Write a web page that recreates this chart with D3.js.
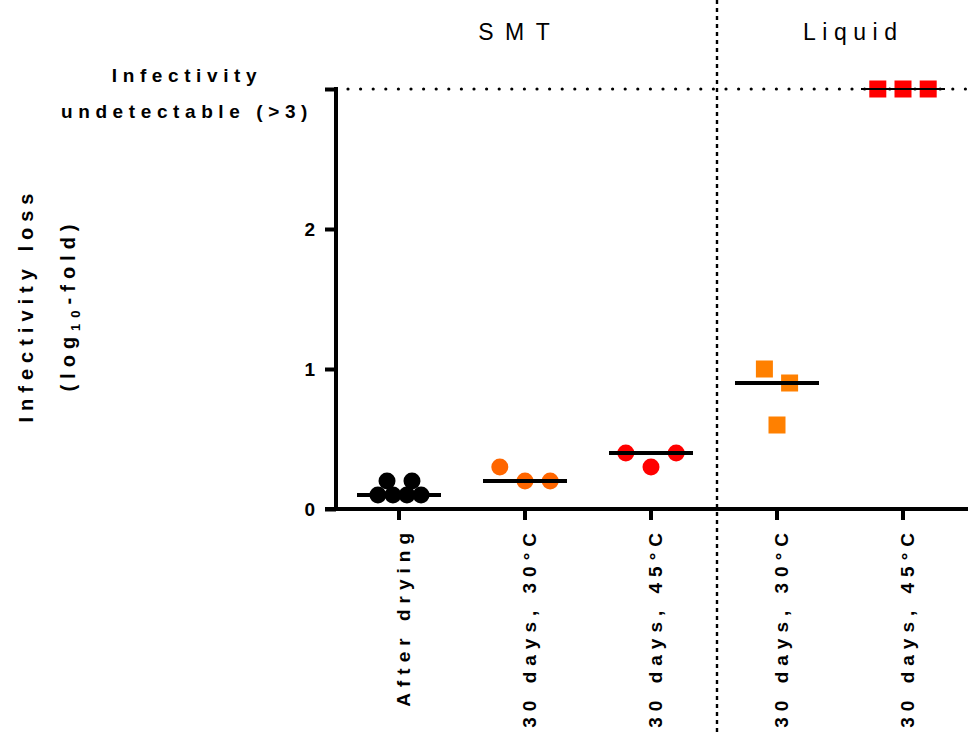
<!DOCTYPE html>
<html>
<head>
<meta charset="utf-8">
<script src="https://cdn.jsdelivr.net/npm/d3@7"></script>
<style>
  body { margin: 0; background: #fff; }
  svg { font-family: "Liberation Sans", Arial, sans-serif; }
  .lbl { font-weight: bold; }
</style>
</head>
<body>
<svg width="971" height="734"></svg>
<script>
// data
const categories = ["After drying", "30 days, 30°C", "30 days, 45°C", "30 days, 30°C", "30 days, 45°C"];
const groupNames = ["SMT", "Liquid"];
const shapes = ["circle", "circle", "circle", "square", "square"];
const colors = ["#000000", "#FF6600", "#FF0000", "#FF8000", "#FF0000"];
const values = [
  [0.1, 0.1, 0.1, 0.1, 0.2, 0.2],
  [0.3, 0.2, 0.2],
  [0.4, 0.3, 0.4],
  [1.0, 0.9, 0.6],
  [3, 3, 3]
];
// horizontal scatter offsets, fraction of a category step
const jitter = [
  [-0.167, -0.048, 0.063, 0.175, -0.095, 0.103],
  [-0.2, 0, 0.2],
  [-0.2, 0, 0.2],
  [-0.1, 0.1, 0],
  [-0.2, 0, 0.2]
];
const medians = [0.1, 0.2, 0.4, 0.9, 3];
const yTicks = [0, 1, 2, 3];

const svg = d3.select("svg");

const x = d3.scaleBand()
  .domain(d3.range(categories.length))
  .range([336, 966])
  .padding(0);
const y = d3.scaleLinear().domain([0, 3]).range([509, 89]);
const step = x.step();
const cx = i => x(i) + x.bandwidth() / 2;

// horizontal dotted limit line
svg.append("line")
  .attr("x1", 348).attr("x2", 968)
  .attr("y1", y(3)).attr("y2", y(3))
  .attr("stroke", "#000").attr("stroke-width", 3.2)
  .attr("stroke-linecap", "round")
  .attr("stroke-dasharray", "0 12.6");

// vertical dashed separator between SMT and Liquid
const sepX = (cx(2) + cx(3)) / 2 + 3;
svg.append("line")
  .attr("x1", sepX).attr("x2", sepX)
  .attr("y1", 0).attr("y2", 734)
  .attr("stroke", "#000").attr("stroke-width", 2.4)
  .attr("stroke-dasharray", "4 4");

// y axis
const yAxis = svg.append("g")
  .attr("transform", "translate(336,0)")
  .call(d3.axisLeft(y).tickValues(yTicks).tickSize(11).tickSizeOuter(0)
    .tickFormat(d => d === 3 ? "" : d));
yAxis.select(".domain").attr("stroke-width", 4).attr("d", `M0,${y(3) - 2}V${y(0) + 2}`);
yAxis.selectAll(".tick line").attr("stroke-width", 4);
yAxis.selectAll(".tick text")
  .attr("x", -21)
  .attr("font-size", 19).attr("font-weight", "bold")
  .attr("font-family", "Liberation Sans, Arial, sans-serif");

// x axis
const xAxis = svg.append("g")
  .attr("transform", `translate(0,${y(0)})`)
  .call(d3.axisBottom(x).tickSize(11).tickSizeOuter(0).tickFormat(""));
xAxis.select(".domain").attr("stroke-width", 4).attr("d", "M325,0H968");
xAxis.selectAll(".tick line").attr("stroke-width", 4);

// rotated category labels
svg.append("g").selectAll("text")
  .data(categories)
  .join("text")
  .attr("class", "lbl")
  .attr("font-size", 19)
  .attr("letter-spacing", 6)
  .attr("text-anchor", "end")
  .attr("transform", (d, i) => `translate(${cx(i) + 11},527) rotate(-90)`)
  .text(d => d);

// group titles
const titleDefs = [
  { x: cx(1) - 11, spacing: 11.5 },
  { x: (cx(3) + cx(4)) / 2 + 10, spacing: 6.5 }
];
svg.append("g").selectAll("text")
  .data(groupNames)
  .join("text")
  .attr("x", (d, i) => titleDefs[i].x + titleDefs[i].spacing / 2)
  .attr("y", 40)
  .attr("font-size", 23)
  .attr("letter-spacing", (d, i) => titleDefs[i].spacing)
  .attr("text-anchor", "middle")
  .text(d => d);

// label for the > 3 limit
const lim = svg.append("text")
  .attr("class", "lbl")
  .attr("font-size", 19)
  .attr("letter-spacing", 5.6)
  .attr("text-anchor", "middle");
lim.append("tspan").attr("x", 187).attr("y", 82).text("Infectivity");
lim.append("tspan").attr("x", 187).attr("y", 118).text("undetectable (>3)");

// y axis title
const yt = svg.append("text")
  .attr("class", "lbl")
  .attr("font-size", 20)
  .attr("letter-spacing", 6)
  .attr("text-anchor", "middle")
  .attr("transform", "translate(0,305) rotate(-90)");
yt.append("tspan").attr("x", 0).attr("y", 33).text("Infectivity loss");
const yt2 = yt.append("tspan").attr("x", 0).attr("y", 75);
yt2.append("tspan").text("(log");
yt2.append("tspan").attr("font-size", 13).attr("dy", 5).text("10");
yt2.append("tspan").attr("dy", -5).text("-fold)");

// points
const pts = [];
values.forEach((vals, i) => vals.forEach((v, j) => pts.push({ i, v, dx: jitter[i][j] })));

const marks = svg.append("g");
marks.selectAll("circle")
  .data(pts.filter(p => shapes[p.i] === "circle"))
  .join("circle")
  .attr("cx", p => cx(p.i) + p.dx * step)
  .attr("cy", p => y(p.v))
  .attr("r", 8.5)
  .attr("fill", p => colors[p.i]);

const sq = 17;
marks.selectAll("rect")
  .data(pts.filter(p => shapes[p.i] === "square"))
  .join("rect")
  .attr("x", p => cx(p.i) + p.dx * step - sq / 2)
  .attr("y", p => y(p.v) - sq / 2)
  .attr("width", sq).attr("height", sq)
  .attr("fill", p => colors[p.i]);

// median lines
svg.append("g").selectAll("line")
  .data(medians)
  .join("line")
  .attr("x1", (d, i) => cx(i) - 42)
  .attr("x2", (d, i) => cx(i) + 42)
  .attr("y1", d => y(d)).attr("y2", d => y(d))
  .attr("stroke", "#000")
  .attr("stroke-width", (d, i) => i === 4 ? 2 : 4);
</script>
</body>
</html>
